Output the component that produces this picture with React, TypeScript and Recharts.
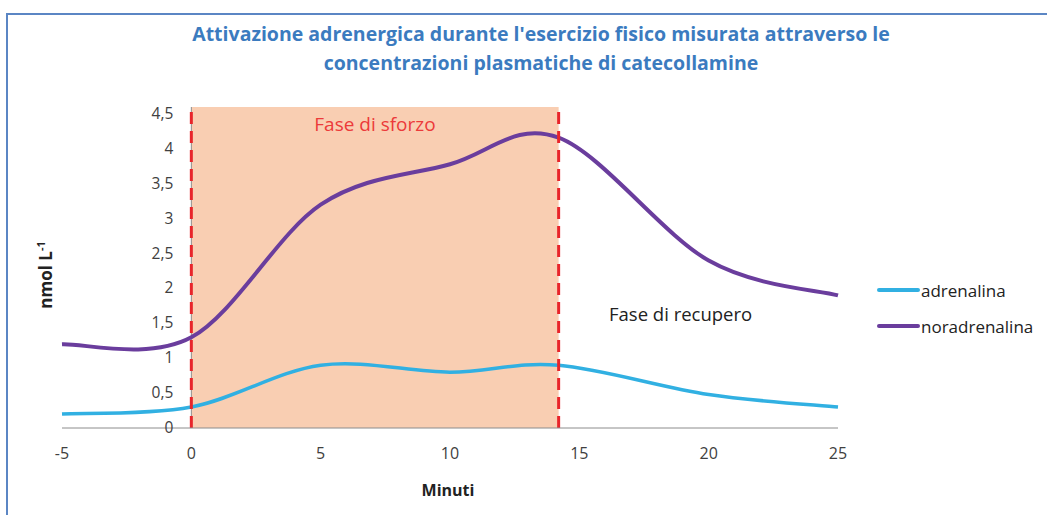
import React from 'react';
import { LineChart, Line, XAxis, YAxis, ReferenceArea, ReferenceLine } from 'recharts';

const minutes = [-5, 0, 5, 10, 14.2, 20, 25];
const adrenalina = [0.2, 0.3, 0.9, 0.8, 0.9, 0.48, 0.3];
const noradrenalina = [1.2, 1.3, 3.2, 3.78, 4.16, 2.4, 1.9];
const xTicks = [-5, 0, 5, 10, 15, 20, 25];
const yTicks = [0, 0.5, 1, 1.5, 2, 2.5, 3, 3.5, 4, 4.5];
const effortStart = 0;
const effortEnd = 14.2;

const W = 1047;
const H = 515;
const PLOT_LEFT = 62;
const PLOT_RIGHT = 838;
const X_MIN = -5;
const X_MAX = 25;
// excel puts the vertical axis where x = 0
const ZERO_X = PLOT_LEFT + ((PLOT_RIGHT - PLOT_LEFT) * (0 - X_MIN)) / (X_MAX - X_MIN);

const FONT = '"Open Sans", "Noto Sans", sans-serif';

const data = minutes.map((m, i) => ({
  minuti: m,
  adrenalina: adrenalina[i],
  noradrenalina: noradrenalina[i],
}));

// Excel-style smoothed line (Catmull-Rom as cubic bezier)
const excelSmooth = (context: any) => {
  let pts: number[][] = [];
  return {
    areaStart() {},
    areaEnd() {},
    lineStart() {
      pts = [];
    },
    point(x: number, y: number) {
      pts.push([+x, +y]);
    },
    lineEnd() {
      if (!pts.length) return;
      context.moveTo(pts[0][0], pts[0][1]);
      for (let i = 0; i < pts.length - 1; i++) {
        const p0 = pts[i - 1] || pts[i];
        const p1 = pts[i];
        const p2 = pts[i + 1];
        const p3 = pts[i + 2] || p2;
        context.bezierCurveTo(
          p1[0] + (p2[0] - p0[0]) / 6,
          p1[1] + (p2[1] - p0[1]) / 6,
          p2[0] - (p3[0] - p1[0]) / 6,
          p2[1] - (p3[1] - p1[1]) / 6,
          p2[0],
          p2[1]
        );
      }
    },
  };
};

const renderYTick = ({ y, payload }: any) => (
  <text key={payload.value} x={ZERO_X - 18} y={y} dy={5} textAnchor="end" fontSize={15.5} fill="#404040" fontFamily={FONT}>
    {String(payload.value).replace('.', ',')}
  </text>
);

const legendItems = [
  { name: 'adrenalina', color: '#31b0e2' },
  { name: 'noradrenalina', color: '#6a3d9d' },
];

export default function App() {
  return (
    <div style={{ position: 'absolute', left: 0, top: 0, width: W, height: H, background: '#fff', fontFamily: FONT }}>
      <div
        style={{
          position: 'absolute',
          left: 6,
          top: 13,
          width: W,
          height: H,
          borderLeft: '2px solid #5b86c4',
          borderTop: '2px solid #5b86c4',
        }}
      />
      <div
        style={{
          position: 'absolute',
          left: 0,
          width: 1082,
          top: 19,
          textAlign: 'center',
          color: '#3b7bbf',
          fontWeight: 700,
          fontSize: 19.5,
          lineHeight: '29px',
        }}
      >
        Attivazione adrenergica durante l'esercizio fisico misurata attraverso le
        <br />
        concentrazioni plasmatiche di catecollamine
      </div>

      <LineChart width={W} height={H} data={data} margin={{ top: 107, right: W - PLOT_RIGHT, bottom: 57, left: PLOT_LEFT - 1 }} style={{ position: 'absolute', left: 0, top: 0 }}>
        <XAxis
          dataKey="minuti"
          type="number"
          domain={[X_MIN, X_MAX]}
          ticks={xTicks}
          height={30}
          axisLine={{ stroke: '#8c8c8c' }}
          tickLine={false}
          tickMargin={14}
          tick={{ fontSize: 16, fill: '#404040', fontFamily: FONT }}
        />
        <YAxis type="number" domain={[0, 4.6]} ticks={yTicks} width={1} axisLine={false} tickLine={false} tick={renderYTick} />
        <ReferenceArea x1={effortStart} x2={effortEnd} fill="#f8c9aa" fillOpacity={0.9} stroke="none"
          label={{ value: 'Fase di sforzo', position: 'insideTop', offset: 11, fill: '#ec3a3a', fontSize: 19, fontFamily: FONT }} />
        <ReferenceLine x={0} stroke="#8c8c8c" strokeWidth={1} />
        <Line type={excelSmooth as any} dataKey="noradrenalina" stroke="#6a3d9d" strokeWidth={4} dot={false} isAnimationActive={false} />
        <Line type={excelSmooth as any} dataKey="adrenalina" stroke="#31b0e2" strokeWidth={3.5} dot={false} isAnimationActive={false} />
        <ReferenceLine x={effortStart} stroke="#e8252b" strokeWidth={3} strokeDasharray="12 7" />
        <ReferenceLine x={effortEnd} stroke="#e8252b" strokeWidth={3} strokeDasharray="12 7" />
      </LineChart>

      <div style={{ position: 'absolute', left: 609, top: 313, transform: 'translateY(-50%)', fontSize: 18.5, color: '#222' }}>
        Fase di recupero
      </div>

      <div style={{ position: 'absolute', left: 877, top: 272 }}>
        {legendItems.map((it) => (
          <div key={it.name} style={{ display: 'flex', alignItems: 'center', height: 36, fontSize: 17, color: '#222' }}>
            <span style={{ display: 'inline-block', width: 43, height: 4, background: it.color, borderRadius: 2, marginRight: 1 }} />
            {it.name}
          </div>
        ))}
      </div>

      <div style={{ position: 'absolute', left: 448, top: 490, transform: 'translate(-50%, -50%)', fontSize: 16, fontWeight: 700, color: '#222' }}>
        Minuti
      </div>
      <div
        style={{
          position: 'absolute',
          left: 45,
          top: 275,
          transform: 'translate(-50%, -50%) rotate(-90deg)',
          fontSize: 17,
          fontWeight: 700,
          color: '#222',
          whiteSpace: 'nowrap',
        }}
      >
        nmol L<sup style={{ fontSize: 11 }}>-1</sup>
      </div>
    </div>
  );
}
